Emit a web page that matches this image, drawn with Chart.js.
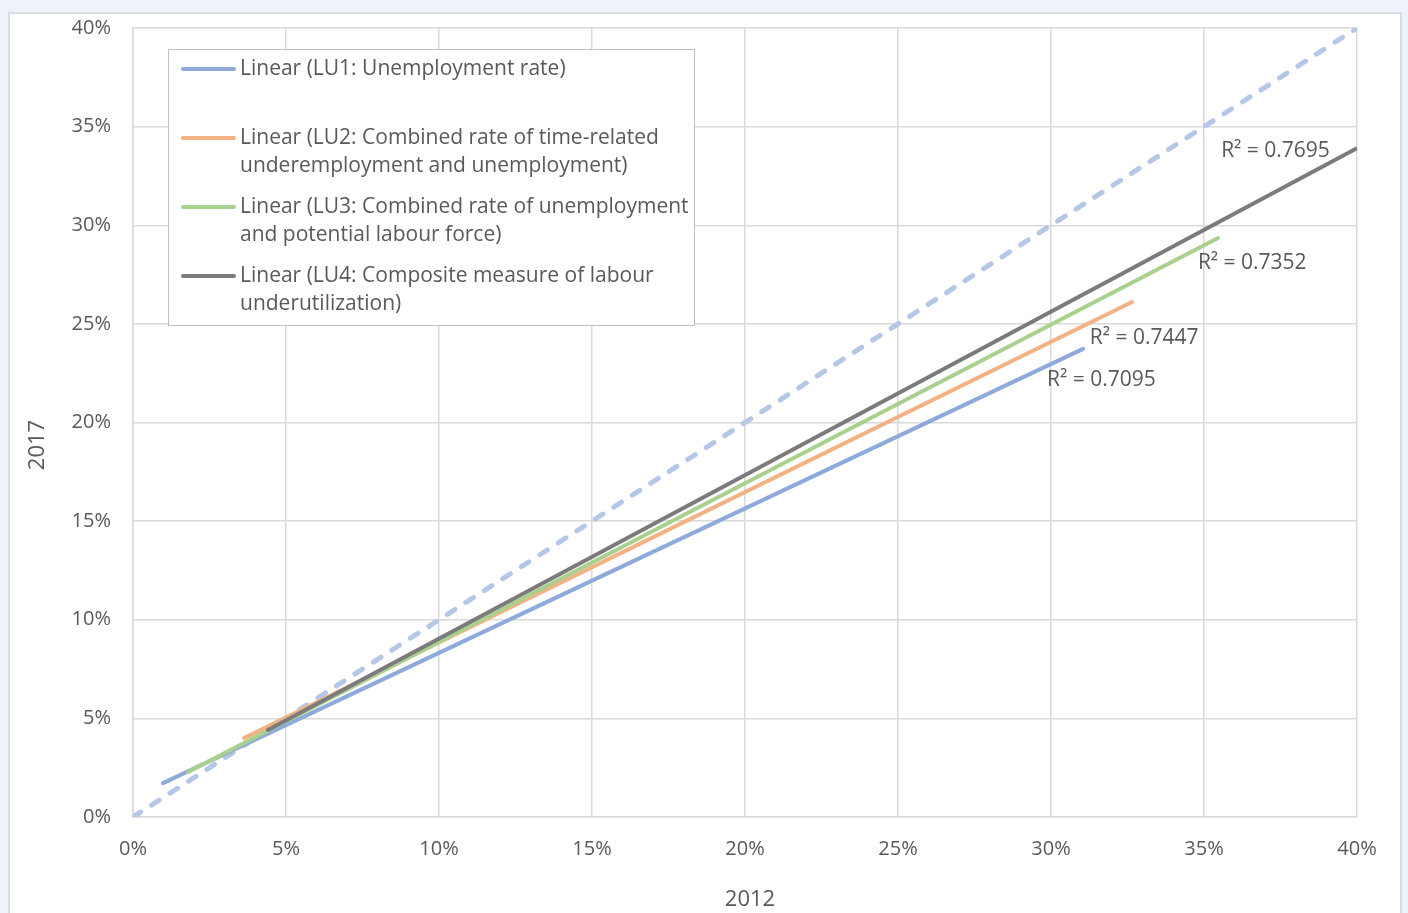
<!DOCTYPE html>
<html>
<head>
<meta charset="utf-8">
<title>LU1-LU4 trend lines, 2012 vs 2017</title>
<script src="https://cdn.jsdelivr.net/npm/chart.js@4.4.1/dist/chart.umd.min.js"></script>
<style>
  html, body { margin: 0; padding: 0; overflow: hidden; background: #eef3fb; }
  #frame {
    position: absolute; left: 8px; top: 12px; width: 1394px; height: 920px;
    background: #ffffff; border: 2px solid #d9dce1; box-sizing: border-box;
  }
  #trendChart { position: absolute; left: 0; top: 0; }
</style>
</head>
<body>
<div id="frame"></div>
<canvas id="trendChart" width="1408" height="913"></canvas>
<script>
// Trend line end points (2012 rate on x, 2017 rate on y, in %)
const seriesNames = ["LU1", "LU2", "LU3", "LU4"];
const lu1Line = [{ x: 0.98, y: 1.72 }, { x: 31.05, y: 23.73 }];
const lu2Line = [{ x: 3.63, y: 4.0 }, { x: 32.65, y: 26.11 }];
const lu3Line = [{ x: 1.8, y: 2.28 }, { x: 35.46, y: 29.35 }];
const lu4Line = [{ x: 4.41, y: 4.41 }, { x: 39.95, y: 33.87 }];
const equalLine = [{ x: 0, y: 0 }, { x: 40, y: 40 }];

// R squared of each fit and where its label sits (data units, left edge / middle)
const rSquared = ["0.7095", "0.7447", "0.7352", "0.7695"];
const rLabelAt = [
    { x: 29.87, y: 22.15 },
    { x: 31.27, y: 24.28 },
    { x: 34.80, y: 28.09 },
    { x: 35.56, y: 33.76 },
];

const legendLines = [
    ["Linear (LU1: Unemployment rate)"],
    ["Linear (LU2: Combined rate of time-related", "underemployment and unemployment)"],
    ["Linear (LU3: Combined rate of unemployment", "and potential labour force)"],
    ["Linear (LU4: Composite measure of labour", "underutilization)"],
];

const axisTicks = [0, 5, 10, 15, 20, 25, 30, 35, 40];
const xTitle = "2012";
const yTitle = "2017";

const colors = ["#8eaadb", "#f4b183", "#a9d18e", "#7b7b7b"];
const textColor = "#595959";
const fontFamily = "'Open Sans', Lato, sans-serif";

// Legend box, R² labels and axis titles
const overlayPlugin = {
    id: "overlay",
    afterDraw(chart) {
        const ctx = chart.ctx;
        const xs = chart.scales.x;
        const ys = chart.scales.y;
        ctx.save();
        ctx.fillStyle = textColor;
        ctx.font = "21px " + fontFamily;
        ctx.textBaseline = "middle";

        // R² labels
        ctx.textAlign = "left";
        rSquared.forEach(function (r, i) {
            const p = rLabelAt[i];
            ctx.fillText("R\u00b2 = " + r, xs.getPixelForValue(p.x), ys.getPixelForValue(p.y));
        });

        // axis titles
        ctx.font = "22px " + fontFamily;
        ctx.textAlign = "center";
        ctx.fillText(xTitle, 750, 900);
        ctx.save();
        ctx.translate(38, 445);
        ctx.rotate(-Math.PI / 2);
        ctx.fillText(yTitle, 0, 0);
        ctx.restore();

        // legend
        const box = { left: 168, top: 49, width: 526, height: 276 };
        ctx.fillStyle = "#ffffff";
        ctx.fillRect(box.left, box.top, box.width, box.height);
        ctx.strokeStyle = "#bfbfbf";
        ctx.lineWidth = 1;
        ctx.strokeRect(box.left + 0.5, box.top + 0.5, box.width, box.height);

        ctx.font = "21px " + fontFamily;
        ctx.textAlign = "left";
        ctx.lineCap = "round";
        legendLines.forEach(function (lines, i) {
            const y = 69 + i * 69;
            ctx.strokeStyle = colors[i];
            ctx.lineWidth = 4;
            ctx.beginPath();
            ctx.moveTo(183, y);
            ctx.lineTo(234, y);
            ctx.stroke();
            ctx.fillStyle = textColor;
            lines.forEach(function (t, j) {
                ctx.fillText(t, 240, y + j * 28.5);
            });
        });
        ctx.restore();
    },
};

function trend(label, data, color, order) {
    return {
        label: label,
        data: data,
        showLine: true,
        borderColor: color,
        backgroundColor: color,
        borderWidth: 4,
        borderCapStyle: "round",
        pointRadius: 0,
        order: order,
    };
}

const ctx = document.getElementById("trendChart");
new Chart(ctx, {
    type: "scatter",
    data: {
        datasets: [
            trend(seriesNames[3], lu4Line, colors[3], 1),
            trend(seriesNames[2], lu3Line, colors[2], 2),
            trend(seriesNames[1], lu2Line, colors[1], 3),
            trend(seriesNames[0], lu1Line, colors[0], 4),
            {
                label: "y = x",
                data: equalLine,
                showLine: true,
                borderColor: "#b4c7e7",
                borderWidth: 5,
                borderDash: [9, 13],
                borderCapStyle: "round",
                pointRadius: 0,
                order: 5,
            },
        ],
    },
    options: {
        responsive: false,
        animation: false,
        layout: { padding: { top: 28, right: 51, left: 0, bottom: 0 } },
        plugins: {
            legend: { display: false },
            tooltip: { enabled: false },
        },
        scales: {
            x: {
                type: "linear",
                min: 0,
                max: 40,
                afterBuildTicks: function (scale) {
                    scale.ticks = axisTicks.map(function (v) { return { value: v }; });
                },
                afterFit: function (scale) {
                    scale.height = 96;
                    scale.paddingLeft = 0;
                    scale.paddingRight = 0;
                },
                grid: { color: "#d9d9d9", lineWidth: 1.5, drawTicks: false },
                border: { color: "#d9d9d9", width: 1.5 },
                ticks: {
                    padding: 20,
                    color: textColor,
                    font: { family: fontFamily, size: 20 },
                    maxRotation: 0,
                    callback: function (v) { return v + "%"; },
                },
            },
            y: {
                type: "linear",
                min: 0,
                max: 40,
                afterBuildTicks: function (scale) {
                    scale.ticks = axisTicks.map(function (v) { return { value: v }; });
                },
                afterFit: function (scale) {
                    scale.width = 133;
                    scale.paddingTop = 0;
                    scale.paddingBottom = 0;
                },
                grid: { color: "#d9d9d9", lineWidth: 1.5, drawTicks: false },
                border: { color: "#d9d9d9", width: 1.5 },
                ticks: {
                    padding: 22,
                    color: textColor,
                    font: { family: fontFamily, size: 20 },
                    callback: function (v) { return v + "%"; },
                },
            },
        },
    },
    plugins: [overlayPlugin],
});
</script>
</body>
</html>
